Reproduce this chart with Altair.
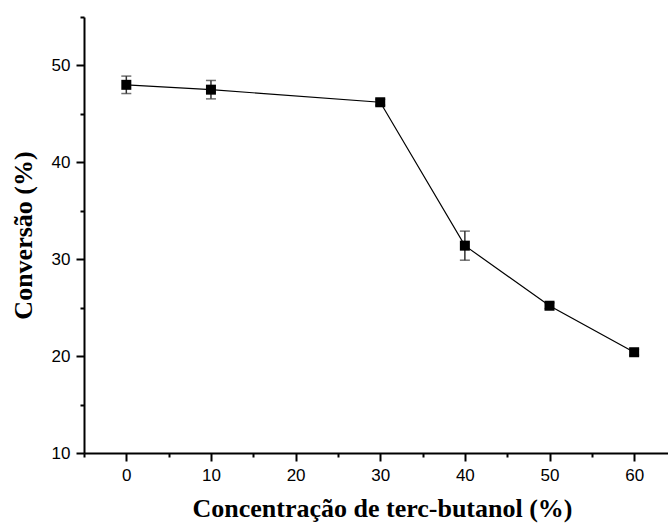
import altair as alt
import pandas as pd

# Conversion vs. tert-butanol concentration
concentracao = [0, 10, 30, 40, 50, 60]
conversao = [48.0, 47.5, 46.2, 31.4, 25.2, 20.4]
desvio = [0.9, 0.95, 0.3, 1.5, 0.3, 0.3]

# major ticks every 10, minor ticks halfway between
x_ticks = [-5, 0, 5, 10, 15, 20, 25, 30, 35, 40, 45, 50, 55, 60]
y_ticks = [10, 15, 20, 25, 30, 35, 40, 45, 50, 55]

df = pd.DataFrame({"conc": concentracao, "conv": conversao, "err": desvio})
df["lo"] = df["conv"] - df["err"]
df["hi"] = df["conv"] + df["err"]

xs = alt.Scale(domain=[-5, 64], nice=False, zero=False)
ys = alt.Scale(domain=[10, 55], nice=False, zero=False)

is_major = "datum.value % 10 === 0"
tick_len = {"condition": {"test": is_major, "value": 8}, "value": 4}

common = dict(
    grid=False, domainColor="black", domainWidth=2, tickColor="black",
    tickWidth=2, tickSize=tick_len, labelFont="Liberation Sans",
    labelFontSize=17, labelColor="black", labelPadding=6,
    labelExpr=f"{is_major} ? datum.label : ''",
    titleFont="Liberation Serif", titleFontWeight="bold",
    titleFontSize=26, titleColor="black",
)

x_axis = alt.Axis(values=x_ticks, orient="bottom",
                  title="Concentração de terc-butanol (%)", titlePadding=12,
                  titleX=298, **common)
y_axis = alt.Axis(values=y_ticks, orient="left",
                  title="Conversão (%)", titlePadding=15, **common)

base = alt.Chart(df)

line = base.mark_line(color="black", strokeWidth=1.2).encode(
    x=alt.X("conc:Q", scale=xs, axis=x_axis),
    y=alt.Y("conv:Q", scale=ys, axis=y_axis),
)

bars = base.mark_rule(color="#333333", strokeWidth=1.5).encode(
    x="conc:Q", y="lo:Q", y2="hi:Q"
)
caps_lo = base.mark_tick(color="#333333", orient="horizontal", size=10, thickness=1.5).encode(
    x="conc:Q", y="lo:Q"
)
caps_hi = base.mark_tick(color="#333333", orient="horizontal", size=10, thickness=1.5).encode(
    x="conc:Q", y="hi:Q"
)
points = base.mark_square(color="black", size=100, opacity=1).encode(
    x="conc:Q", y="conv:Q"
)

chart = alt.layer(line, bars, caps_lo, caps_hi, points).properties(
    width=584, height=436, autosize="none",
    padding={"left": 84, "top": 17, "right": 0, "bottom": 71},
    background="white",
).configure_view(stroke=None)

chart.save("out.html", embed_options={"renderer": "svg", "actions": False})
